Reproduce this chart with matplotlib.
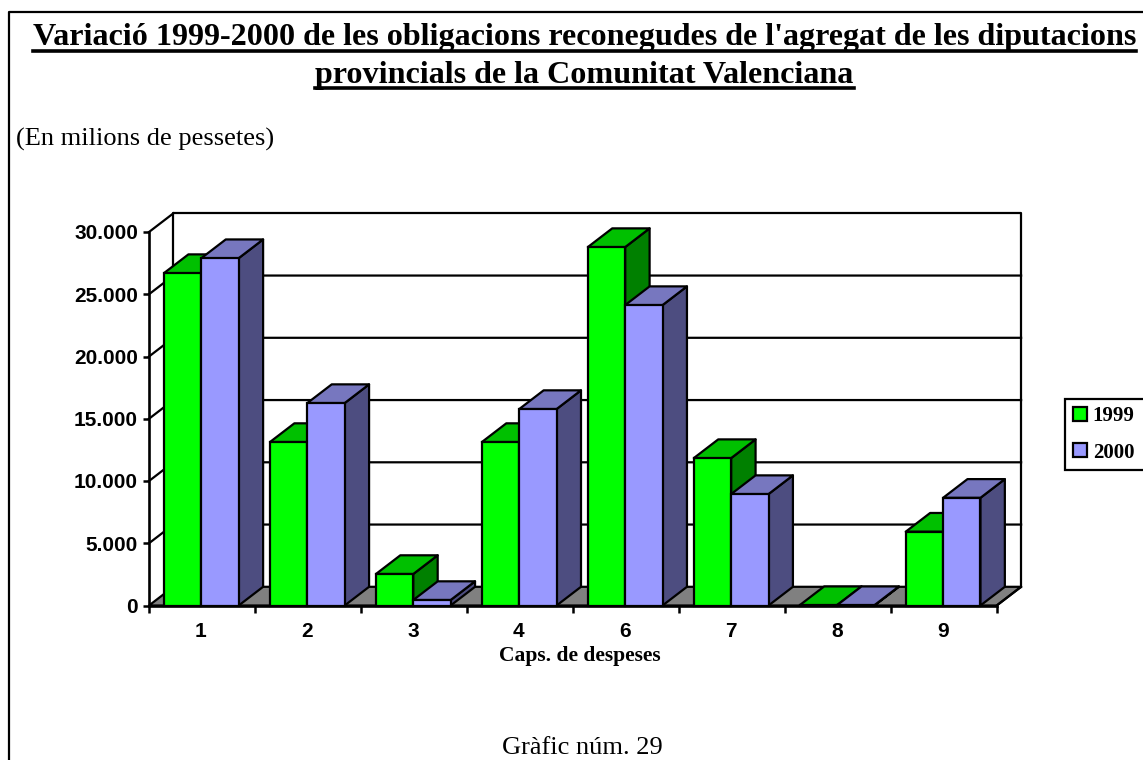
import matplotlib
matplotlib.use('Agg')
import matplotlib.pyplot as plt
from matplotlib.lines import Line2D

# Values (milions de pessetes).
caps = ['1', '2', '3', '4', '6', '7', '8', '9']
vals_1999 = [26700, 13130, 2530, 13130, 28790, 11840, 30, 5930]
vals_2000 = [27900, 16260, 440, 15780, 24130, 8950, 30, 8650]
series_names = ['1999', '2000']
y_ticks = [0, 5000, 10000, 15000, 20000, 25000, 30000]
y_labels = ['0', '5.000', '10.000', '15.000', '20.000', '25.000', '30.000']

title_lines = ["Variació 1999-2000 de les obligacions reconegudes de l'agregat de les diputacions",
               'provincials de la Comunitat Valenciana']

W, H = 1143, 760
SERIF = 'Liberation Serif'
SANS = 'Liberation Sans'

# Face colours for front, top and side of each series.
greens = ('#00FF00', '#00C000', '#008000')
blues = ('#9999FF', '#7777BF', '#4D4D80')

fig = plt.figure(figsize=(W / 100, H / 100), dpi=100, facecolor='white')
ax = fig.add_axes([149 / W, 1 - 605.5 / H, (996.7 - 149) / W, (605.5 - 232) / H])
ax.set_xlim(0, len(caps))
ax.set_ylim(0, 30000)
ax.patch.set_visible(False)

# Depth of the fake 3D box, in data units.
dx = 24.4 / 105.95
dy = 18.7 / 373.5 * 30000
n = len(caps)

# Floor, walls and gridlines.
ax.fill([0, n, n + dx, dx], [0, 0, dy, dy], fc='#808080', ec='black', lw=1.6, zorder=1, clip_on=False)
ax.plot([dx, dx, n + dx, n + dx], [dy, 30000 + dy, 30000 + dy, dy], color='black', lw=1.6, zorder=1.5, clip_on=False)
ax.plot([0, dx], [30000, 30000 + dy], color='black', lw=1.6, zorder=1.5, clip_on=False)
ax.plot([n, n + dx], [0, dy], color='black', lw=1.6, zorder=1.5, clip_on=False)
for v in y_ticks[1:-1]:
    ax.plot([0, dx, n + dx], [v, v + dy, v + dy], color='black', lw=1.6, zorder=1.5, clip_on=False)

# Bars: front with ax.bar, then top and side faces.
bar_w = 37.35 / 105.95
bar_off = 15 / 105.95
z = 3
for i in range(n):
    for j, (vals, cols) in enumerate([(vals_1999, greens), (vals_2000, blues)]):
        x0 = i + bar_off + j * bar_w
        x1 = x0 + bar_w
        v = vals[i]
        ax.fill([x1, x1 + dx, x1 + dx, x1], [0, dy, v + dy, v], fc=cols[2], ec='black', lw=1.6,
                zorder=z, clip_on=False, joinstyle='round')
        ax.fill([x0, x1, x1 + dx, x0 + dx], [v, v, v + dy, v + dy], fc=cols[1], ec='black', lw=1.6,
                zorder=z, clip_on=False, joinstyle='round')
        ax.bar(x0, v, width=bar_w, align='edge', color=cols[0], edgecolor='black', lw=1.6,
               zorder=z + 0.5, clip_on=False)
        z += 1

# Axes.
for name in ['top', 'right']:
    ax.spines[name].set_visible(False)
for name in ['left', 'bottom']:
    ax.spines[name].set_linewidth(1.9)
    ax.spines[name].set_zorder(50)
ax.set_yticks(y_ticks)
ax.set_yticklabels(y_labels, fontfamily=SANS, fontweight='bold', fontsize=15)
ax.set_xticks(range(n + 1))
ax.set_xticklabels([])
ax.set_xticks([i + 0.49 for i in range(n)], minor=True)
ax.set_xticklabels(caps, minor=True, fontfamily=SANS, fontweight='bold', fontsize=15)
ax.tick_params(axis='y', length=4.5, width=1.8, pad=3.5)
ax.tick_params(axis='x', which='major', length=5, width=1.8)
ax.tick_params(axis='x', which='minor', length=0, pad=12)

# Legend runs off the right edge of the picture.
handles = [Line2D([], [], ls='none', marker='s', ms=10.2, mfc=greens[0], mec='black', mew=1.6),
           Line2D([], [], ls='none', marker='s', ms=10.2, mfc=blues[0], mec='black', mew=1.6)]
leg = ax.legend(handles, series_names, loc='upper left', mode='expand', numpoints=1,
                bbox_to_anchor=(1065 / W, 1 - 468 / H, 110 / W, 69 / H), bbox_transform=fig.transFigure,
                borderaxespad=0, borderpad=0.34, labelspacing=0.8, handlelength=0.8,
                handletextpad=0.195, fancybox=False, framealpha=1, edgecolor='black',
                prop={'family': SERIF, 'weight': 'bold', 'size': 15})
leg.get_frame().set_linewidth(1.6)
leg.set_zorder(60)

# Page frame: left and top only, the rest falls outside the crop.
fig.add_artist(Line2D([8.5 / W, 8.5 / W, 1], [0, 1 - 11.5 / H, 1 - 11.5 / H], color='black', lw=1.6))


def pix_text(x, y, s, **kw):
    return fig.text(x / W, 1 - y / H, s, color='black', family=SERIF, **kw)


# Title with underlines taken from the text extents.
renderer = fig.canvas.get_renderer()
for line, base, ul in zip(title_lines, [45, 83], [50.5, 88]):
    t = pix_text(584.5, base, line, fontsize=23.1, fontweight='bold', ha='center', va='baseline')
    bb = t.get_window_extent(renderer)
    fig.add_artist(Line2D([bb.x0 / W, bb.x1 / W], [1 - ul / H, 1 - ul / H], color='black', lw=2.6))

pix_text(16, 146, '(En milions de pessetes)', fontsize=19, ha='left', va='baseline')
pix_text(579.5, 661, 'Caps. de despeses', fontsize=15.5, fontweight='bold', ha='center', va='baseline')
pix_text(582, 753.5, 'Gràfic núm. 29', fontsize=19, ha='center', va='baseline')

fig.savefig('out.png', dpi=100)
